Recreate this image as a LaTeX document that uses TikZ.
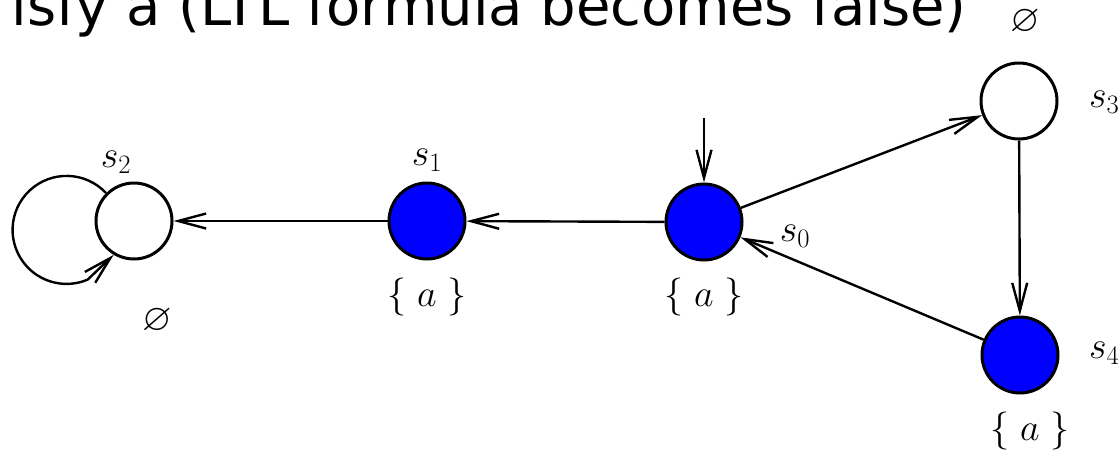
\RequirePackage{fix-cm}
\documentclass[tikz,border=0pt]{standalone}
\usepackage{amssymb}
\usepackage{fontspec}
\newfontfamily\headfont{DejaVu Sans}
\usetikzlibrary{arrows.meta}

\begin{document}
\begin{tikzpicture}[x=1pt, y=-1pt,
    state/.style={circle, draw=black, line width=3pt, minimum size=76pt, inner sep=0pt},
    acc/.style={state, fill=blue},
    arr/.style={line width=2.4pt, -{Straight Barb[length=28pt,width=15pt,line width=2.4pt]}},
    lbl/.style={inner sep=0pt, font=\fontsize{38}{44}\selectfont}]
    \clip (0,0) rectangle (1120,456);

    % heading, cut off by the frame
    \node[anchor=base east, inner sep=0pt, font=\headfont\fontsize{56}{60}\selectfont]
        (head) at (967,25) {isfy a (LTL formula becomes false)};

    % states
    \node[acc]   (s0) at (704,222) {};
    \node[acc]   (s1) at (427,221) {};
    \node[state] (s2) at (134,221) {};
    \node[state] (s3) at (1019,101) {};
    \node[acc]   (s4) at (1020,355) {};

    % names
    \node[lbl] (n0) at (795,236) {$s_0$};
    \node[lbl] (n1) at (427,160) {$s_1$};
    \node[lbl] (n2) at (116,162) {$s_2$};
    \node[lbl, anchor=west] (n3) at (1089,102) {$s_3$};
    \node[lbl, anchor=west] (n4) at (1089,353) {$s_4$};

    % labels
    \node[lbl] (l0) at (704,297) {$\{\;a\;\}$};
    \node[lbl] (l1) at (427,297) {$\{\;a\;\}$};
    \node[lbl] (l2) at (157,321) {$\varnothing$};
    \node[lbl] (l3) at (1025,22) {$\varnothing$};
    \node[lbl] (l4) at (1030,431) {$\{\;a\;\}$};

    % transitions
    \coordinate (init) at (704,118);
    \draw[arr] (init) -- (s0);
    \draw[arr] (s0) -- (s1);
    \draw[arr] (s1) -- (s2);
    \draw[arr] (s0) -- (s3);
    \draw[arr] (s3) -- (s4);
    \draw[arr] (s4) -- (s0);
    \draw[arr] (s2.135) arc[start angle=-43, end angle=-293, radius=54] -- (s2.239);
\end{tikzpicture}
\end{document}
